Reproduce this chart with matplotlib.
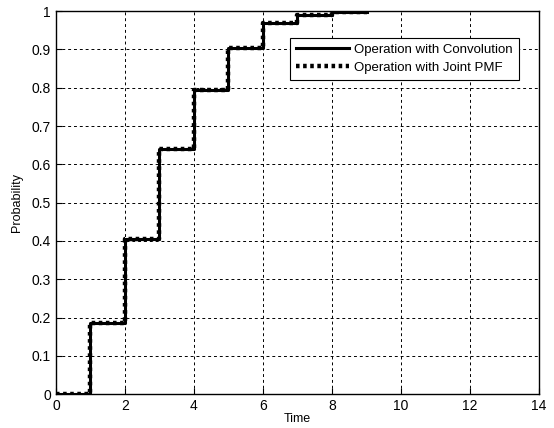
import numpy as np
import matplotlib
matplotlib.use("Agg")
import matplotlib.pyplot as plt

plt.rcParams["font.family"] = ["Liberation Sans", "DejaVu Sans"]

# step edges and cumulative probabilities
time = [0, 1, 2, 3, 4, 5, 6, 7, 8, 9]
prob_conv = [0.0, 0.185, 0.405, 0.64, 0.795, 0.905, 0.968, 0.99, 0.998, 0.998]
prob_joint = [0.0, 0.185, 0.405, 0.64, 0.795, 0.905, 0.968, 0.99, 0.998, 0.998]

xticks = [0, 2, 4, 6, 8, 10, 12, 14]
yticks = [0, 0.1, 0.2, 0.3, 0.4, 0.5, 0.6, 0.7, 0.8, 0.9, 1]

fig = plt.figure(figsize=(5.54, 4.28), dpi=100)
ax = fig.add_axes([0.101, 0.079, 0.872, 0.895])

ax.plot(time, prob_conv, drawstyle="steps-post", color="black", lw=2.2,
        label="Operation with Convolution")
ax.plot(time, prob_joint, drawstyle="steps-post", color="black", lw=3.2,
        linestyle=(0, (0.8, 0.8)), label="Operation with Joint PMF")

ax.set_xlim(0, 14)
ax.set_ylim(0, 1)
ax.set_xticks(xticks)
ax.set_yticks(yticks)
ax.set_yticklabels(["0", "0.1", "0.2", "0.3", "0.4", "0.5", "0.6", "0.7", "0.8", "0.9", "1"])
ax.tick_params(labelsize=10, direction="in", length=4, width=0.8)
ax.grid(True, color="black", linestyle=(0, (3, 3)), lw=0.7)
for s in ax.spines.values():
    s.set_linewidth(1.0)

ax.set_xlabel("Time", fontsize=9, labelpad=0)
ax.set_ylabel("Probability", fontsize=9, labelpad=6)

leg = ax.legend(loc="upper right", bbox_to_anchor=(0.972, 0.948), fontsize=9.5,
                fancybox=False, framealpha=1, edgecolor="black",
                handlelength=4.0, handletextpad=0.4, borderpad=0.45, labelspacing=0.45)
leg.get_frame().set_linewidth(0.8)

fig.savefig("out.png", dpi=100)
